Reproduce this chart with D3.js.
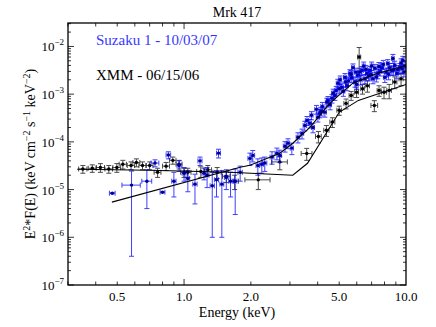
<!DOCTYPE html>
<html>
<head>
<meta charset="utf-8">
<script src="https://cdn.jsdelivr.net/npm/d3@7"></script>
<style>
  body { margin: 0; background: #fff; }
  text { font-family: "Liberation Serif", "DejaVu Serif", serif; }
</style>
</head>
<body>
<div id="chart"></div>
<script>
// XMM - 06/15/06 (energy keV, half-width, E^2 F(E), error)
const xmmE  = [0.35,0.386,0.42,0.458,0.498,0.53,0.577,0.61,0.65,0.70,0.76,0.83,0.89,0.95,1.0,1.04,1.19,1.28,1.41,1.55,1.69,2.16,2.70,3.57,4.03,4.38,4.66,5.0,5.37,5.66,5.99,6.15,6.37,6.7,7.2,7.56,7.96,8.4,8.9,9.5];
const xmmDE = [0.015,0.016,0.018,0.018,0.02,0.02,0.022,0.022,0.024,0.025,0.027,0.03,0.03,0.03,0.035,0.035,0.05,0.05,0.06,0.06,0.07,0.28,0.22,0.2,0.12,0.12,0.12,0.12,0.12,0.12,0.12,0.1,0.12,0.15,0.25,0.15,0.2,0.2,0.2,0.2];
const xmmF  = [2.7e-5,2.8e-5,2.9e-5,2.7e-5,2.9e-5,3.4e-5,3.2e-5,3.7e-5,3.2e-5,3.2e-5,2.3e-5,3.1e-5,4.1e-5,3.4e-5,2.3e-5,2.3e-5,2.4e-5,2.6e-5,2.3e-5,1.9e-5,1.5e-5,1.6e-5,3.8e-5,5.7e-5,1.3e-4,1.75e-4,2.6e-4,4.6e-4,6.4e-4,9.4e-4,1.1e-3,6.0e-3,1.3e-3,1.5e-3,5.8e-4,1.2e-3,1.1e-3,1.2e-3,1.8e-3,2.1e-3];
const xmmDF = [5e-6,5e-6,6e-6,5e-6,6e-6,7e-6,6e-6,7e-6,6e-6,6e-6,5e-6,6e-6,7e-6,7e-6,5e-6,5e-6,6e-6,6e-6,6e-6,5e-6,5e-6,6e-6,1.2e-5,1.6e-5,3.5e-5,4.5e-5,6e-5,1e-4,1.5e-4,2e-4,2.5e-4,3.5e-3,3e-4,4e-4,1.5e-4,3e-4,3e-4,4e-4,5e-4,6e-4];

// Suzaku 1 - 10/03/07
const suzE  = [0.475,0.58,0.68,0.74,0.80,0.85,0.90,0.95,1.0,1.04,1.12,1.18,1.23,1.27,1.34,1.40,1.43,1.48,1.55,1.62,1.70,
  1.79,1.98,2.04,2.15,2.24,2.31,2.49,2.62,2.70,2.85,2.94,3.06,3.26,3.40,3.58,3.69,3.81,4.01,4.09,4.31,4.45,4.64,4.78,4.93,
  5.14,5.31,5.42,5.59,5.77,5.89,6.07,6.33,6.53,6.67,6.88,7.10,7.24,7.47,7.79,8.03,8.28,8.64,8.73,9.10,9.38,9.68,9.79,
  4.20,4.55,4.85,5.05,5.22,5.50,5.70,6.00,6.20,6.45,6.80,7.00,7.35,7.65,7.90,8.15,8.45,8.90,9.20,9.50,9.90,
  3.50,3.75,3.95,4.15,4.40,4.70,5.00,5.35,5.65,5.95,6.25,6.60,6.95,7.55,8.35,8.80,9.60];
const suzDE = [0.014,0.055,0.035,0.03,0.02,0.02,0.02,0.02,0.02,0.02,0.025,0.025,0.025,0.025,0.03,0.03,0.03,0.03,0.03,0.03,0.03,
  0.04,0.04,0.04,0.04,0.04,0.05,0.05,0.05,0.05,0.05,0.05,0.05,0.06,0.06,0.06,0.06,0.06,0.07,0.07,0.07,0.07,0.08,0.08,0.08,
  0.08,0.08,0.08,0.09,0.09,0.09,0.09,0.1,0.1,0.1,0.1,0.1,0.1,0.12,0.12,0.12,0.12,0.12,0.12,0.12,0.12,0.12,0.12,
  0.07,0.07,0.08,0.08,0.08,0.09,0.09,0.09,0.1,0.1,0.1,0.1,0.1,0.12,0.12,0.12,0.12,0.12,0.12,0.12,0.12,
  0.06,0.06,0.07,0.07,0.07,0.08,0.08,0.08,0.09,0.09,0.1,0.1,0.1,0.12,0.12,0.12,0.12];
const suzF  = [8.4e-6,1.24e-5,1.5e-5,3.6e-5,8.8e-6,5.3e-5,1.5e-5,3.2e-5,2.2e-5,1.7e-5,1.3e-5,4.0e-5,2.2e-5,2.0e-5,1.2e-5,1.6e-5,5.8e-5,1.3e-5,1.8e-5,1.5e-5,1.5e-5,
  2.3e-5,4.5e-5,5.2e-5,3.2e-5,3.4e-5,3.6e-5,4.8e-5,5.8e-5,5.2e-5,8.1e-5,9.4e-5,7.4e-5,1.25e-4,1.5e-4,2.8e-4,2.45e-4,2.0e-4,3.3e-4,4.0e-4,4.2e-4,7.4e-4,8.2e-4,9.4e-4,1.7e-3,
  1.4e-3,2.25e-3,1.5e-3,2.7e-3,3.6e-3,1.8e-3,2.5e-3,3.15e-3,2.1e-3,2.7e-3,3.15e-3,2.1e-3,3.5e-3,2.7e-3,3.6e-3,2.25e-3,4.4e-3,3.15e-3,5.6e-3,2.7e-3,3.6e-3,5.1e-3,2.9e-3,
  5.5e-4,6.0e-4,1.2e-3,2.0e-3,1.15e-3,1.9e-3,2.2e-3,1.6e-3,2.9e-3,3.9e-3,2.4e-3,3.9e-3,2.3e-3,3.0e-3,4.2e-3,2.9e-3,3.6e-3,4.0e-3,3.3e-3,4.5e-3,3.9e-3,
  2.2e-4,3.6e-4,4.8e-4,4.4e-4,6.8e-4,1.05e-3,1.3e-3,1.8e-3,2.6e-3,2.9e-3,2.0e-3,3.3e-3,2.6e-3,3.8e-3,2.6e-3,3.2e-3,3.4e-3];
const suzDF = [2e-7,1.2e-5,1.1e-5,6e-6,2e-7,9e-6,8e-6,8e-6,7e-6,8e-6,8e-6,8e-6,6e-6,9e-6,1.1e-5,9e-6,1.2e-5,1.2e-5,8e-6,8e-6,1.2e-5,
  8e-6,1.3e-5,1.4e-5,1.2e-5,1.2e-5,1.2e-5,1.4e-5,1.6e-5,1.5e-5,2e-5,2.2e-5,2e-5,3e-5,3.5e-5,6e-5,5e-5,4.5e-5,7e-5,8e-5,9e-5,1.5e-4,1.7e-4,2e-4,3.5e-4,
  3e-4,4.5e-4,3.2e-4,5.5e-4,7e-4,4e-4,5e-4,6.5e-4,4.5e-4,5.5e-4,6.5e-4,4.5e-4,7e-4,6e-4,7.5e-4,5e-4,9e-4,7e-4,1.2e-3,6e-4,8e-4,1.1e-3,6e-4,
  1.2e-4,1.3e-4,2.5e-4,4e-4,2.5e-4,4e-4,4.5e-4,3.5e-4,6e-4,8e-4,5e-4,8e-4,5e-4,6e-4,9e-4,6e-4,8e-4,9e-4,7e-4,1e-3,9e-4,
  5e-5,7e-5,1e-4,9e-5,1.4e-4,2.2e-4,2.8e-4,3.8e-4,5.5e-4,6e-4,4.5e-4,7e-4,5.5e-4,8e-4,6e-4,7e-4,7.5e-4];

// model curves
const xmmModelE = [0.33,0.70,1.61,3.09,3.6,5.0,6.1,10];
const xmmModelF = [2.67e-5,2.55e-5,2.31e-5,2.0e-5,3.56e-5,4.17e-4,7.4e-4,1.6e-3];
const suzModelE = [0.473,1.79,1.98,2.70,3.09,3.69,4.53,5.74,7.39,10];
const suzModelF = [5.45e-6,2.94e-5,3.24e-5,5.78e-5,9.35e-5,2.02e-4,6.43e-4,1.68e-3,2.72e-3,4.0e-3];

const xLabelTicks = [0.5, 1, 2, 5, 10];
const yDecades = [1e-7, 1e-6, 1e-5, 1e-4, 1e-3, 1e-2];

const W = 436, H = 327;
const m = {l: 68, r: 30, t: 23, b: 42};
const w = W - m.l - m.r, h = H - m.t - m.b;

const svg = d3.select("#chart").append("svg")
    .attr("width", W).attr("height", H);

const x = d3.scaleLog().domain([0.3, 10]).range([m.l, m.l + w]);
const y = d3.scaleLog().domain([1e-7, 0.031]).range([m.t + h, m.t]);

svg.append("clipPath").attr("id", "clip")
  .append("rect").attr("x", m.l).attr("y", m.t).attr("width", w).attr("height", h);

const plot = svg.append("g").attr("clip-path", "url(#clip)");

function drawSet(E, DE, F, DF, barColor, dotColor, opacity) {
    const g = plot.append("g");
    const cap = 2.5;
    E.forEach((e, i) => {
        const cx = x(e), cy = y(F[i]);
        const lo = F[i] - DF[i] > 1e-8 ? y(F[i] - DF[i]) : m.t + h + 5;
        const hi = y(F[i] + DF[i]);
        const xl = x(e - DE[i]), xr = x(e + DE[i]);
        const bar = g.append("g").attr("stroke", barColor).attr("stroke-width", 1)
            .attr("opacity", opacity);
        bar.append("line").attr("x1", cx).attr("x2", cx).attr("y1", lo).attr("y2", hi);
        bar.append("line").attr("x1", cx - cap).attr("x2", cx + cap).attr("y1", hi).attr("y2", hi);
        bar.append("line").attr("x1", cx - cap).attr("x2", cx + cap).attr("y1", lo).attr("y2", lo);
        bar.append("line").attr("x1", xl).attr("x2", xr).attr("y1", cy).attr("y2", cy);
        bar.append("line").attr("x1", xl).attr("x2", xl).attr("y1", cy - cap).attr("y2", cy + cap);
        bar.append("line").attr("x1", xr).attr("x2", xr).attr("y1", cy - cap).attr("y2", cy + cap);
        g.append("circle").attr("cx", cx).attr("cy", cy).attr("r", 1.7).attr("fill", dotColor);
    });
}

drawSet(xmmE, xmmDE, xmmF, xmmDF, "#000", "#000", 0.7);
drawSet(suzE, suzDE, suzF, suzDF, "#0000ff", "#000090", 0.75);

const line = d3.line().x(d => x(d[0])).y(d => y(d[1]));
plot.append("path").datum(xmmModelE.map((e, i) => [e, xmmModelF[i]]))
    .attr("d", line).attr("fill", "none").attr("stroke", "#000").attr("stroke-width", 1.1);
plot.append("path").datum(suzModelE.map((e, i) => [e, suzModelF[i]]))
    .attr("d", line).attr("fill", "none").attr("stroke", "#000").attr("stroke-width", 1.1);

// ticks (inside, on all four sides)
const xMinor = [];
[0.1, 1].forEach(dec => { for (let k = 1; k < 10; k++) { const v = k * dec; if (v >= 0.3 && v <= 10) xMinor.push(v); } });
const yMinor = [];
yDecades.forEach(dec => { for (let k = 2; k < 10; k++) { const v = k * dec; if (v < 0.031) yMinor.push(v); } });

const ticks = svg.append("g").attr("stroke", "#000").attr("stroke-width", 0.8);
xMinor.forEach(v => {
    const len = (v === 1 || v === 10) ? 6 : 3.5;
    ticks.append("line").attr("x1", x(v)).attr("x2", x(v)).attr("y1", m.t + h).attr("y2", m.t + h - len);
    ticks.append("line").attr("x1", x(v)).attr("x2", x(v)).attr("y1", m.t).attr("y2", m.t + len);
});
yDecades.forEach(v => {
    ticks.append("line").attr("x1", m.l).attr("x2", m.l + 6).attr("y1", y(v)).attr("y2", y(v));
    ticks.append("line").attr("x1", m.l + w).attr("x2", m.l + w - 6).attr("y1", y(v)).attr("y2", y(v));
});
yMinor.forEach(v => {
    ticks.append("line").attr("x1", m.l).attr("x2", m.l + 3).attr("y1", y(v)).attr("y2", y(v));
    ticks.append("line").attr("x1", m.l + w).attr("x2", m.l + w - 3).attr("y1", y(v)).attr("y2", y(v));
});

// frame
svg.append("rect").attr("x", m.l).attr("y", m.t).attr("width", w).attr("height", h)
    .attr("fill", "none").attr("stroke", "#000").attr("stroke-width", 1.3);

// tick labels
svg.selectAll(".xl").data(xLabelTicks).join("text")
    .attr("x", d => x(d)).attr("y", m.t + h + 16)
    .attr("text-anchor", "middle").style("font-size", "13px")
    .text(d => d3.format(".1f")(d));

yDecades.forEach(v => {
    const t = svg.append("text").attr("x", m.l - 4).attr("y", y(v) + 5)
        .attr("text-anchor", "end").style("font-size", "13px");
    t.append("tspan").text("10");
    t.append("tspan").attr("dy", -6).style("font-size", "9px").text("\u2212" + Math.round(-Math.log10(v)));
});

// titles and labels
svg.append("text").attr("x", m.l + w / 2).attr("y", 17).attr("text-anchor", "middle")
    .style("font-size", "14px").text("Mrk 417");
svg.append("text").attr("x", m.l + w / 2).attr("y", 317).attr("text-anchor", "middle")
    .style("font-size", "14px").text("Energy (keV)");

const yl = svg.append("text").attr("transform", `translate(35,${m.t + h / 2}) rotate(-90)`)
    .attr("text-anchor", "middle").style("font-size", "14px");
yl.append("tspan").text("E");
yl.append("tspan").attr("dy", -5).style("font-size", "10px").text("2");
yl.append("tspan").attr("dy", 5).text("*F(E) (keV cm");
yl.append("tspan").attr("dy", -5).style("font-size", "10px").text("\u22122");
yl.append("tspan").attr("dy", 5).text(" s");
yl.append("tspan").attr("dy", -5).style("font-size", "10px").text("\u22121");
yl.append("tspan").attr("dy", 5).text(" keV");
yl.append("tspan").attr("dy", -5).style("font-size", "10px").text("\u22122");
yl.append("tspan").attr("dy", 5).text(")");

svg.append("text").attr("x", 96).attr("y", 45).style("font-size", "15px")
    .attr("fill", "#0000ff").attr("opacity", 0.8).text("Suzaku 1 - 10/03/07");
svg.append("text").attr("x", 96).attr("y", 80).style("font-size", "15px")
    .attr("fill", "#000").text("XMM - 06/15/06");
</script>
</body>
</html>
